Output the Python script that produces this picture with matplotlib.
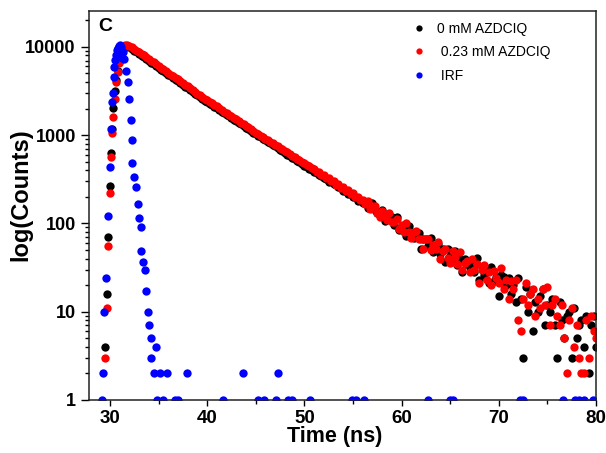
import matplotlib
matplotlib.use("Agg")
import matplotlib.pyplot as plt
from matplotlib.ticker import FixedLocator, FixedFormatter, LogLocator, NullFormatter, MultipleLocator

# rising edge of the two decays (shared channels)
rise_t = [29.45, 29.65, 29.85, 30.0, 30.1, 30.2, 30.35, 30.5, 30.65, 30.8, 30.95, 31.1, 31.25, 31.4, 31.55]
rise_black = [4, 16, 70, 265, 620, 1160, 2040, 3170, 4200, 5400, 6700, 7900, 9000, 9800, 10300]
rise_red = [3, 11, 56, 220, 560, 1050, 1600, 2600, 4050, 5200, 6500, 7800, 9100, 10000, 10500]

# decay part, 0.25 ns channels
decay_t = [31.75,
           32.0, 32.25, 32.5, 32.75, 33.0, 33.25, 33.5, 33.75,
           34.0, 34.25, 34.5, 34.75, 35.0, 35.25, 35.5, 35.75,
           36.0, 36.25, 36.5, 36.75, 37.0, 37.25, 37.5, 37.75,
           38.0, 38.25, 38.5, 38.75, 39.0, 39.25, 39.5, 39.75,
           40.0, 40.25, 40.5, 40.75, 41.0, 41.25, 41.5, 41.75,
           42.0, 42.25, 42.5, 42.75, 43.0, 43.25, 43.5, 43.75,
           44.0, 44.25, 44.5, 44.75, 45.0, 45.25, 45.5, 45.75,
           46.0, 46.25, 46.5, 46.75, 47.0, 47.25, 47.5, 47.75,
           48.0, 48.25, 48.5, 48.75, 49.0, 49.25, 49.5, 49.75,
           50.0, 50.25, 50.5, 50.75, 51.0, 51.25, 51.5, 51.75,
           52.0, 52.25, 52.5, 52.75, 53.0, 53.25, 53.5, 53.75,
           54.0, 54.25, 54.5, 54.75, 55.0, 55.25, 55.5, 55.75,
           56.0, 56.25, 56.5, 56.75, 57.0, 57.25, 57.5, 57.75,
           58.0, 58.25, 58.5, 58.75, 59.0, 59.25, 59.5, 59.75,
           60.0, 60.25, 60.5, 60.75, 61.0, 61.25, 61.5, 61.75,
           62.0, 62.25, 62.5, 62.75, 63.0, 63.25, 63.5, 63.75,
           64.0, 64.25, 64.5, 64.75, 65.0, 65.25, 65.5, 65.75,
           66.0, 66.25, 66.5, 66.75, 67.0, 67.25, 67.5, 67.75,
           68.0, 68.25, 68.5, 68.75, 69.0, 69.25, 69.5, 69.75,
           70.0, 70.25, 70.5, 70.75, 71.0, 71.25, 71.5, 71.75,
           72.0, 72.25, 72.5, 72.75, 73.0, 73.25, 73.5, 73.75,
           74.0, 74.25, 74.5, 74.75, 75.0, 75.25, 75.5, 75.75,
           76.0, 76.25, 76.5, 76.75, 77.0, 77.25, 77.5, 77.75,
           78.0, 78.25, 78.5, 78.75, 79.0, 79.25, 79.5, 79.75,
           80.0]

decay_black = [10300,
               9900, 9500, 9050, 8700, 8330, 7920, 7640, 7250,
               6990, 6620, 6390, 6060, 5840, 5530, 5320, 5050,
               4860, 4620, 4450, 4240, 4080, 3880, 3740, 3550,
               3420, 3240, 3110, 2940, 2830, 2690, 2590, 2470,
               2370, 2280, 2180, 2100, 2020, 1930, 1850, 1770,
               1700, 1630, 1570, 1500, 1450, 1380, 1330, 1265,
               1220, 1160, 1120, 1065, 1025, 980, 945, 905,
               875, 835, 805, 770, 745, 710, 685, 655,
               632, 603, 585, 557, 540, 512, 498, 472,
               452, 441, 418, 408, 380, 376, 352, 349,
               326, 320, 296, 299, 278, 270, 256, 252,
               236, 232, 216, 218, 198, 199, 180, 182,
               172, 177, 151, 169, 172, 142, 130, 135,
               141, 106, 123, 111, 117, 97, 118, 85,
               91, 93, 72, 93, 75, 68, 75, 77,
               51, 66, 66, 55, 68, 47, 51, 59,
               45, 51, 37, 51, 43, 39, 49, 34,
               40, 28, 40, 35, 32, 39, 28, 41,
               23, 32, 26, 29, 21, 32, 22, 25,
               15, 26, 25, 20, 24, 16, 20, 13,
               24, 14, 3, 19, 10, 16, 6, 13,
               10, 15, 18, 7, 12, 10, 14, 7,
               3, 13, 8, 5, 9, 10, 3, 11,
               5, 7, 8, 4, 9, 2, 7, 9,
               4]

decay_red = [10450,
             10300, 9950, 9520, 9050, 8740, 8300, 7990, 7600,
             7320, 6950, 6700, 6350, 6120, 5800, 5580, 5300,
             5090, 4840, 4660, 4430, 4280, 4060, 3920, 3720,
             3590, 3390, 3260, 3080, 2960, 2820, 2720, 2590,
             2490, 2380, 2300, 2190, 2120, 2020, 1940, 1850,
             1780, 1710, 1640, 1580, 1510, 1450, 1390, 1330,
             1270, 1225, 1165, 1120, 1070, 1030, 985, 950,
             910, 880, 840, 810, 775, 748, 715, 690,
             660, 637, 608, 588, 560, 542, 518, 500,
             490, 458, 447, 421, 414, 386, 381, 356,
             351, 326, 327, 301, 303, 276, 280, 255,
             258, 233, 238, 216, 219, 198, 201, 183,
             185, 166, 179, 144, 157, 157, 133, 118,
             137, 126, 108, 130, 105, 104, 112, 86,
             96, 81, 101, 79, 68, 80, 83, 66,
             67, 51, 67, 66, 50, 57, 51, 61,
             40, 49, 52, 41, 36, 49, 42, 35,
             48, 30, 36, 38, 28, 40, 30, 35,
             21, 30, 34, 23, 28, 20, 29, 24,
             21, 31, 18, 23, 14, 22, 18, 23,
             8, 6, 14, 21, 12, 16, 18, 9,
             14, 11, 18, 12, 19, 7, 12, 14,
             9, 7, 12, 5, 2, 8, 11, 4,
             7, 3, 2, 2, 8, 3, 9, 6,
             5]

# instrument response function
irf_t = [29.15, 29.28, 29.4, 29.62, 29.82, 30.02, 30.12, 30.22, 30.3, 30.38,
         30.47, 30.57, 30.67, 30.77, 30.87, 30.97, 31.07, 31.17, 31.22, 31.32,
         31.47, 31.62, 31.82, 32.0, 32.12, 32.22, 32.32, 32.52, 32.64, 32.86,
         32.98, 33.16, 33.24, 33.4, 33.56, 33.7, 33.92, 33.98, 34.18, 34.26,
         34.52, 34.72, 34.86, 35.1, 35.44, 35.87, 36.67, 37.0, 37.93, 41.6,
         43.65, 45.2, 45.9, 47.07, 47.25, 48.3, 48.7, 50.6, 54.9, 55.3,
         56.1, 62.75, 65.0, 65.3, 72.16, 72.5, 76.6, 77.8, 78.2, 78.77, 79.7]
irf_counts = [1, 2, 10, 24, 122, 440, 1180, 2400, 3000, 4600,
              5900, 7100, 8000, 9200, 9800, 10300, 10500, 9900, 7400, 8800,
              7200, 5400, 4050, 2600, 1500, 890, 480, 340, 260, 166,
              115, 90, 49, 37, 30, 17, 10, 7, 3, 5,
              2, 4, 1, 2, 1, 2, 1, 1, 2, 1,
              2, 1, 1, 1, 2, 1, 1, 1, 1, 1,
              1, 1, 1, 1, 1, 1, 1, 1, 1, 1, 1]

labels = ['0 mM AZDCIQ', ' 0.23 mM AZDCIQ', ' IRF']
ytick_vals = [1, 10, 100, 1000, 10000]
ytick_text = ['1', '10', '100', '1000', '10000']

plt.rcParams['font.family'] = ['Liberation Sans', 'DejaVu Sans']

fig = plt.figure(figsize=(6.06, 4.53), dpi=100)
ax = fig.add_axes([0.1469, 0.117, 0.8366, 0.8587])

ms = 6.0
ax.plot(rise_t + decay_t, rise_black + decay_black, 'o', color='black', ms=ms, mew=0, label=labels[0])
ax.plot(rise_t + decay_t, rise_red + decay_red, 'o', color='#ff0000', ms=ms, mew=0, label=labels[1])
ax.plot(irf_t, irf_counts, 'o', color='#0000ff', ms=ms, mew=0, label=labels[2])

ax.set_yscale('log')
ax.set_xlim(27.85, 80)
ax.set_ylim(1, 25500)

ax.xaxis.set_major_locator(MultipleLocator(10))
ax.xaxis.set_minor_locator(MultipleLocator(5))
ax.yaxis.set_major_locator(FixedLocator(ytick_vals))
ax.yaxis.set_major_formatter(FixedFormatter(ytick_text))
ax.yaxis.set_minor_locator(LogLocator(base=10, subs=range(2, 10)))
ax.yaxis.set_minor_formatter(NullFormatter())

ax.tick_params(which='both', direction='out', top=False, right=False, width=1.0)
ax.tick_params(axis='y', which='major', length=5.5, pad=4, labelsize=13)
ax.tick_params(axis='y', which='minor', length=3)
ax.tick_params(axis='x', which='major', length=4.5, pad=3, labelsize=13.5)
ax.tick_params(axis='x', which='minor', length=3)
for lab in ax.get_xticklabels() + ax.get_yticklabels():
    lab.set_fontweight('bold')
for sp in ax.spines.values():
    sp.set_linewidth(1.1)
    sp.set_color('#222222')

ax.set_xlabel('Time (ns)', fontsize=15.5, fontweight='bold')
ax.xaxis.set_label_coords(0.485, -0.066)
ax.set_ylabel('log(Counts)', fontsize=17, fontweight='bold')
ax.yaxis.set_label_coords(-0.112, 0.528)

ax.text(0.018, 0.982, 'C', transform=ax.transAxes, fontsize=14, fontweight='bold',
        ha='left', va='top')

ax.legend(loc='upper left', bbox_to_anchor=(0.627, 0.987), frameon=False, fontsize=10,
          markerscale=0.75, handlelength=1.0, handletextpad=0.8, labelspacing=0.7,
          borderaxespad=0)

fig.savefig('out.png', dpi=100)
